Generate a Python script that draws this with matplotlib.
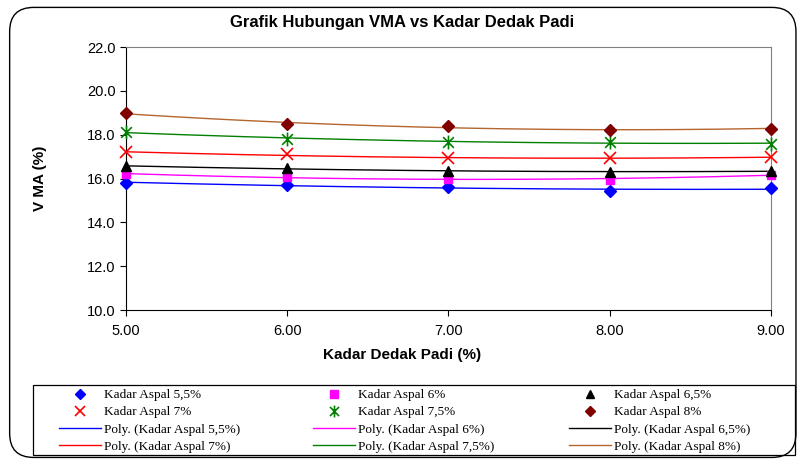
import numpy as np
import matplotlib.pyplot as plt
from matplotlib.patches import FancyBboxPatch, Rectangle
from matplotlib.path import Path

# Data
kadar_dedak = [5.0, 6.0, 7.0, 8.0, 9.0]
vma_55 = [15.80, 15.72, 15.60, 15.42, 15.55]
vma_60 = [16.20, 16.08, 15.98, 15.93, 16.18]
vma_65 = [16.55, 16.50, 16.33, 16.28, 16.35]
vma_70 = [17.20, 17.10, 16.92, 16.92, 16.98]
vma_75 = [18.12, 17.80, 17.68, 17.68, 17.58]
vma_80 = [18.98, 18.48, 18.38, 18.22, 18.28]
labels = ['Kadar Aspal 5,5%', 'Kadar Aspal 6%', 'Kadar Aspal 6,5%',
          'Kadar Aspal 7%', 'Kadar Aspal 7,5%', 'Kadar Aspal 8%']

# asterisk marker like Excel's star (x with a vertical bar)
star = Path([(-1, -1), (1, 1), (-1, 1), (1, -1), (0, -1.3), (0, 1.3)],
            [Path.MOVETO, Path.LINETO, Path.MOVETO, Path.LINETO, Path.MOVETO, Path.LINETO])

series = [vma_55, vma_60, vma_65, vma_70, vma_75, vma_80]
marker_styles = [
    dict(marker='D', color='#0000FF', ms=6, mec='#0000FF'),
    dict(marker='s', color='#FF00FF', ms=6, mec='#FF00FF'),
    dict(marker='^', color='#000000', ms=7, mec='#000000'),
    dict(marker='x', color='#FF0000', ms=9, mew=1.2),
    dict(marker=star, color='#008000', ms=10, mew=1.2),
    dict(marker='D', color='#800000', ms=6, mec='#800000'),
]
line_colors = ['#0000FF', '#FF00FF', '#000000', '#FF0000', '#008000', '#B5652D']

plt.rcParams['font.family'] = ['Liberation Sans', 'DejaVu Sans']

fig = plt.figure(figsize=(8.04, 4.63), dpi=100)
frame = FancyBboxPatch((0.012, 0.012), 0.978, 0.972, boxstyle='round,pad=0,rounding_size=0.03',
                       transform=fig.transFigure, fill=False, ec='black', lw=1.0,
                       mutation_aspect=8.04 / 4.63)
fig.patches.append(frame)

ax = fig.add_axes([126 / 804, 1 - 310 / 463, (771 - 126) / 804, (310 - 47) / 463])

marker_handles = []
line_handles = []
xs = np.linspace(5, 9, 200)
for vals, ms, lc, lab in zip(series, marker_styles, line_colors, labels):
    h, = ax.plot(kadar_dedak, vals, ls='none', label=lab, zorder=3, clip_on=False, **ms)
    marker_handles.append(h)
    coef = np.polyfit(kadar_dedak, vals, 2)
    lh, = ax.plot(xs, np.polyval(coef, xs), color=lc, lw=1.0, label='Poly. (' + lab + ')', zorder=2)
    line_handles.append(lh)

ax.set_xlim(5, 9)
ax.set_ylim(10, 22)
ax.set_xticks(kadar_dedak)
ax.set_xticklabels(['%.2f' % v for v in kadar_dedak])
ax.set_yticks(np.arange(10, 22.1, 2))
ax.set_yticklabels(['%.1f' % v for v in np.arange(10, 22.1, 2)])
ax.tick_params(axis='both', direction='out', length=4, labelsize=10.5, width=0.8)
ax.tick_params(axis='x', pad=6)
for s in ['top', 'right']:
    ax.spines[s].set_color('#808080')
for s in ['left', 'bottom']:
    ax.spines[s].set_linewidth(0.8)

fig.text(0.5, 1 - 22 / 463, 'Grafik Hubungan VMA vs Kadar Dedak Padi', ha='center', va='center',
         fontsize=12, fontweight='bold')
fig.text(0.5, 1 - 355 / 463, 'Kadar Dedak Padi (%)', ha='center', va='center',
         fontsize=11, fontweight='bold')
fig.text(40 / 804, 1 - 178 / 463, 'V MA (%)', ha='center', va='center', rotation=90,
         fontsize=11, fontweight='bold')

# legend box, then one legend per column so the columns sit where they do in the original
fig.patches.append(Rectangle((33 / 804, 1 - 455 / 463), (795 - 33) / 804, (455 - 385) / 463,
                             transform=fig.transFigure, fill=False, ec='black', lw=0.9))
col_x = [59, 313, 569]
for c in range(3):
    hs = [marker_handles[c], marker_handles[c + 3], line_handles[c], line_handles[c + 3]]
    fig.legend(handles=hs, labels=[h.get_label() for h in hs], loc='upper left',
               bbox_to_anchor=(col_x[c] / 804, 1 - 389 / 463), frameon=False,
               prop={'family': 'Liberation Serif', 'size': 9.5}, handlelength=3.2,
               handletextpad=0.2, borderpad=0, borderaxespad=0, labelspacing=0.38,
               markerscale=0.85)

fig.savefig('out.png', dpi=100)
